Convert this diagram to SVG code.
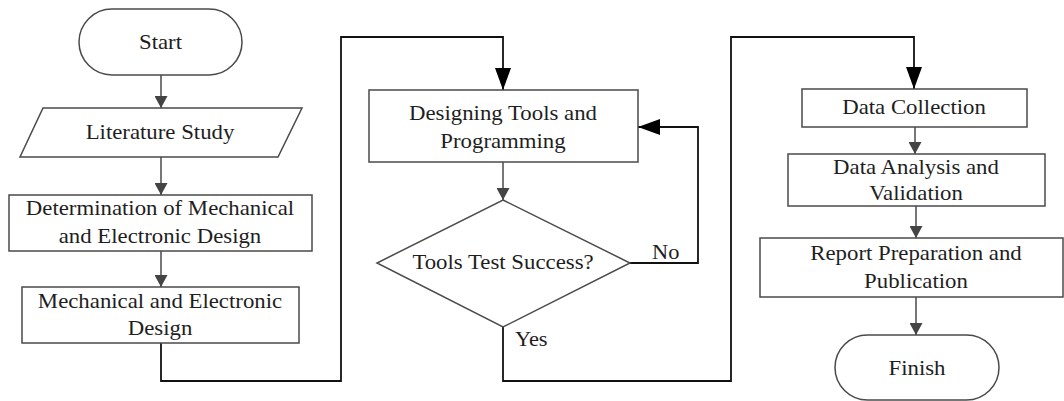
<svg xmlns="http://www.w3.org/2000/svg" width="1064" height="401" viewBox="0 0 1064 401">
<style>
.shape{fill:#fff;stroke:#4a4a4a;stroke-width:1.5}
.cg{fill:none;stroke:#4a4a4a;stroke-width:1.5}
.cb{fill:none;stroke:#111;stroke-width:1.8}
</style>
<defs>
<marker id="arrS" markerUnits="userSpaceOnUse" markerWidth="12" markerHeight="13" refX="12" refY="6.5" orient="auto"><path d="M0,0 L12,6.5 L0,13 z" fill="#444"/></marker>
<marker id="arrB" markerUnits="userSpaceOnUse" markerWidth="22" markerHeight="16" refX="22" refY="8" orient="auto"><path d="M0,0 L22,8 L0,16 z" fill="#000"/></marker>
</defs>
<rect width="1064" height="401" fill="#fff"/>
<g font-family="Liberation Serif, Times New Roman, serif" font-size="20" fill="#1e1e1e">
<g id="connectors">
<path class="cg" d="M161,75 V108" marker-end="url(#arrS)"/>
<path class="cg" d="M161,157 V195" marker-end="url(#arrS)"/>
<path class="cg" d="M161,251 V287" marker-end="url(#arrS)"/>
<path class="cb" d="M161,343 V381 H341 V37 H503 V90" marker-end="url(#arrB)"/>
<path class="cg" d="M503,162 V200" marker-end="url(#arrS)"/>
<path class="cb" d="M630,263 H698 V127 H638" marker-end="url(#arrB)"/>
<path class="cb" d="M503,327 V381 H731 V37 H914 V89" marker-end="url(#arrB)"/>
<path class="cg" d="M915,127 V154" marker-end="url(#arrS)"/>
<path class="cg" d="M916,206 V238" marker-end="url(#arrS)"/>
<path class="cg" d="M916,297 V335" marker-end="url(#arrS)"/>
<text transform="matrix(1.12 0 0 1 652 258.5)">No</text>
<text transform="matrix(1.12 0 0 1 515 345.5)">Yes</text>
</g>
<g text-anchor="middle">
<g id="start">
<rect class="shape" x="79" y="9" width="163" height="66" rx="33" ry="33"/>
<text transform="matrix(1.14 0 0 1 160.5 48.5)">Start</text>
</g>
<g id="literature">
<polygon class="shape" points="43,108 302,108 278,157 20,157"/>
<text transform="matrix(1.14 0 0 1 160 138.5)">Literature Study</text>
</g>
<g id="determination">
<rect class="shape" x="9" y="195" width="303" height="56"/>
<text transform="matrix(1.14 0 0 1 160 215)">Determination of Mechanical</text>
<text transform="matrix(1.14 0 0 1 160 242.5)">and Electronic Design</text>
</g>
<g id="mechdesign">
<rect class="shape" x="22" y="287" width="277" height="56"/>
<text transform="matrix(1.14 0 0 1 160 307.5)">Mechanical and Electronic</text>
<text transform="matrix(1.14 0 0 1 160 335)">Design</text>
</g>
<g id="designing">
<rect class="shape" x="369" y="90" width="269" height="72"/>
<text transform="matrix(1.14 0 0 1 503 119.5)">Designing Tools and</text>
<text transform="matrix(1.14 0 0 1 503 147.5)">Programming</text>
</g>
<g id="decision">
<polygon class="shape" points="503,200 630,263 503,327 377,263"/>
<text transform="matrix(1.14 0 0 1 503 268.5)">Tools Test Success?</text>
</g>
<g id="datacollection">
<rect class="shape" x="802" y="89" width="225" height="38"/>
<text transform="matrix(1.14 0 0 1 914 114)">Data Collection</text>
</g>
<g id="analysis">
<rect class="shape" x="788" y="154" width="257" height="52"/>
<text transform="matrix(1.14 0 0 1 916 173.5)">Data Analysis and</text>
<text transform="matrix(1.14 0 0 1 916 200)">Validation</text>
</g>
<g id="report">
<rect class="shape" x="760" y="238" width="303" height="59"/>
<text transform="matrix(1.14 0 0 1 916 260)">Report Preparation and</text>
<text transform="matrix(1.14 0 0 1 916 287.5)">Publication</text>
</g>
<g id="finish">
<rect class="shape" x="835" y="335" width="164" height="65" rx="32.5" ry="32.5"/>
<text transform="matrix(1.14 0 0 1 917 374.5)">Finish</text>
</g>
</g>
</g>
</svg>
